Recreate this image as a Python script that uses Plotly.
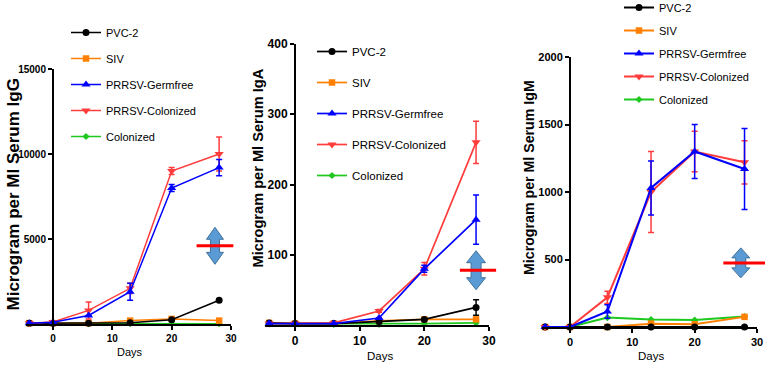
import plotly.graph_objects as go

W, H = 765, 365

# ---------------- data ----------------
days = [-4, 0, 6, 13, 20, 28]
names = ["PVC-2", "SIV", "PRRSV-Germfree", "PRRSV-Colonized", "Colonized"]

# IgG (panel 1)
igg_pvc2 = [50, 50, 50, 80, 250, 1400]
igg_siv = [50, 50, 50, 200, 300, 200]
igg_germfree = [50, 100, 500, 1900, 8000, 9200]
igg_germfree_err = [0, 0, 0, 500, 200, 480]
igg_prrsv_col = [50, 120, 800, 2100, 9000, 10000]
igg_prrsv_col_err = [0, 0, 500, 300, 200, 1000]
igg_colonized = [30, 30, 25, 30, 20, 20]

# IgA (panel 2)
iga_pvc2 = [3, 2, 2, 5, 8, 25]
iga_pvc2_err = [0, 0, 0, 0, 0, 11]
iga_siv = [3, 2, 2, 6, 8, 8]
iga_germfree = [2, 2, 2, 10, 80, 150]
iga_germfree_err = [0, 0, 0, 0, 5, 35]
iga_prrsv_col = [2, 2, 3, 20, 80, 260]
iga_prrsv_col_err = [0, 0, 0, 2, 9, 30]
iga_colonized = [2, 2, 1, 1, 2, 3]

# IgM (panel 3)
igm_pvc2 = [0, 0, 0, 0, 0, 0]
igm_siv = [0, 0, 0, 25, 20, 75]
igm_germfree = [0, 0, 115, 1030, 1300, 1170]
igm_germfree_err = [0, 0, 50, 200, 200, 300]
igm_prrsv_col = [0, 0, 220, 1000, 1300, 1220]
igm_prrsv_col_err = [0, 0, 45, 300, 150, 160]
igm_colonized = [0, 0, 70, 55, 52, 78]

y_titles = ["Microgram per Ml Serum IgG", "Microgram per Ml Serum IgA", "Microgram per Ml Serum IgM"]
y_tickvals = [[5000, 10000, 15000], [100, 200, 300, 400], [500, 1000, 1500, 2000]]
x_tickvals = [0, 10, 20, 30]
y_max = [15000, 400, 2000]
thresholds = [4600, 78, 475]          # red reference line value per panel
thr_x = [[24.2, 30.4], [25.5, 31.1], [24.6, 31.3]]  # extent of red line (days)
arrow_x = [27.3, 28.0, 27.4]          # day at which the double arrow sits

panels = [
    dict(vals=[igg_pvc2, igg_siv, igg_germfree, igg_prrsv_col, igg_colonized],
         errs=[None, None, igg_germfree_err, igg_prrsv_col_err, None]),
    dict(vals=[iga_pvc2, iga_siv, iga_germfree, iga_prrsv_col, iga_colonized],
         errs=[iga_pvc2_err, None, iga_germfree_err, iga_prrsv_col_err, None]),
    dict(vals=[igm_pvc2, igm_siv, igm_germfree, igm_prrsv_col, igm_colonized],
         errs=[None, None, igm_germfree_err, igm_prrsv_col_err, None]),
]

# ---------------- styling / layout (pixels) ----------------
FONT = "Liberation Sans, Arial, sans-serif"
colors = ["#000000", "#ff8000", "#0000ff", "#ff3c3c", "#1ec81e"]
symbols = ["circle", "square", "triangle-up", "triangle-down", "diamond"]
msizes = [7, 6.5, 8, 8, 5.5]
draw_order = [4, 1, 0, 3, 2]

geo = [  # px of day 0, px of day 30, min day, px of y=0, px of y=max
    dict(px0=53, px30=231, xmin=-4.5, py0=324, pytop=69, tick=10, title=17, days=11, leg=11,
         lw=1.5, title_xy=(12.5, 195), days_xy=(130, 352), leg_xy=(66, 18), gap=7,
         arrow=dict(h=37, hw=17, sw=9, hh=12)),
    dict(px0=295, px30=489, xmin=-4.6, py0=325, pytop=44, tick=12, title=14.6, days=11.5, leg=11.5,
         lw=1.7, title_xy=(257.5, 168), days_xy=(380, 356), leg_xy=(312, 37), gap=12,
         arrow=dict(h=39, hw=19, sw=10, hh=12)),
    dict(px0=570, px30=757, xmin=-4.5, py0=327, pytop=57, tick=11, title=14.2, days=11.5, leg=11,
         lw=2, title_xy=(529, 178), days_xy=(651, 356), leg_xy=(619, -7), gap=4,
         arrow=dict(h=30, hw=18, sw=10, hh=10)),
]

fig = go.Figure()
shapes = []
annotations = []


def px2paper(px, py):
    return px / W, (H - py) / H


for i, (p, g) in enumerate(zip(panels, geo)):
    n = "" if i == 0 else str(i + 1)
    xa, ya, leg = "x" + n, "y" + n, "legend" + n
    for k in draw_order:
        err = p["errs"][k]
        fig.add_trace(go.Scatter(
            x=days, y=p["vals"][k], name=names[k], xaxis=xa, yaxis=ya,
            mode="lines+markers", legend=leg, legendrank=k + 1,
            legendgroup=f"{i}-{names[k]}",
            line=dict(color=colors[k], width=g["lw"]),
            marker=dict(symbol=symbols[k], size=msizes[k], color=colors[k]),
            error_y=(dict(type="data", array=err, color=colors[k], thickness=1.5, width=3)
                     if err is not None else None),
            cliponaxis=False,
        ))

    ppd = (g["px30"] - g["px0"]) / 30.0
    xleft = g["px0"] + g["xmin"] * ppd
    xdom = [xleft / W, g["px30"] / W]
    ydom = [(H - g["py0"]) / H, (H - g["pytop"]) / H]
    ypos = g["px0"] / W
    axis_common = dict(showgrid=False, zeroline=False, showline=True, linecolor="black",
                       linewidth=2, ticks="outside", ticklen=4, tickwidth=1.5, tickcolor="black",
                       tickfont=dict(family=FONT, size=g["tick"], color="black"))
    fig.layout["xaxis" + n] = dict(axis_common, domain=xdom, range=[g["xmin"], 30], anchor=ya,
                                   tickvals=x_tickvals,
                                   ticktext=["<b>%d</b>" % v for v in x_tickvals])
    fig.layout["yaxis" + n] = dict(axis_common, domain=ydom, range=[0, y_max[i]], anchor="free",
                                   position=ypos, tickvals=y_tickvals[i],
                                   ticktext=["<b>%d</b>" % v for v in y_tickvals[i]])

    lx, ly = px2paper(*g["leg_xy"])
    fig.layout[leg] = dict(x=lx, y=ly, xanchor="left", yanchor="top", bgcolor="rgba(0,0,0,0)",
                           font=dict(family=FONT, size=g["leg"], color="black"),
                           traceorder="grouped", tracegroupgap=g["gap"], itemwidth=30)

    # y-axis title and x-axis title
    tx, ty = px2paper(*g["title_xy"])
    annotations.append(dict(x=tx, y=ty, xref="paper", yref="paper", text="<b>%s</b>" % y_titles[i],
                            textangle=-90, showarrow=False, xanchor="center", yanchor="middle",
                            font=dict(family=FONT, size=g["title"], color="black")))
    dx, dy = px2paper(*g["days_xy"])
    annotations.append(dict(x=dx, y=dy, xref="paper", yref="paper", text="Days",
                            showarrow=False, xanchor="center", yanchor="middle",
                            font=dict(family=FONT, size=g["days"], color="black")))

    # double arrow + red reference line
    ypx = g["py0"] - thresholds[i] / y_max[i] * (g["py0"] - g["pytop"])
    cx = g["px0"] + arrow_x[i] * ppd
    a = g["arrow"]
    top, bot = ypx - a["h"] / 2, ypx + a["h"] / 2
    pts = [(cx, top), (cx + a["hw"] / 2, top + a["hh"]), (cx + a["sw"] / 2, top + a["hh"]),
           (cx + a["sw"] / 2, bot - a["hh"]), (cx + a["hw"] / 2, bot - a["hh"]), (cx, bot),
           (cx - a["hw"] / 2, bot - a["hh"]), (cx - a["sw"] / 2, bot - a["hh"]),
           (cx - a["sw"] / 2, top + a["hh"]), (cx - a["hw"] / 2, top + a["hh"])]
    path = "M " + " L ".join("%.5f,%.5f" % px2paper(x, y) for x, y in pts) + " Z"
    shapes.append(dict(type="path", path=path, xref="paper", yref="paper",
                       fillcolor="#5b9bd5", line=dict(color="#41719c", width=1), layer="above"))
    x0p = (g["px0"] + thr_x[i][0] * ppd) / W
    x1p = (g["px0"] + thr_x[i][1] * ppd) / W
    yp = (H - ypx) / H
    shapes.append(dict(type="line", xref="paper", yref="paper", x0=x0p, x1=x1p, y0=yp, y1=yp,
                       line=dict(color="#ff0000", width=3), layer="above"))

fig.update_layout(width=W, height=H, margin=dict(l=0, r=0, t=0, b=0, autoexpand=False),
                  paper_bgcolor="white", plot_bgcolor="white",
                  shapes=shapes, annotations=annotations, showlegend=True)

fig.write_html("out.html", config={"displayModeBar": False},
               post_script="document.body.style.margin='0';document.body.style.overflow='hidden';")
